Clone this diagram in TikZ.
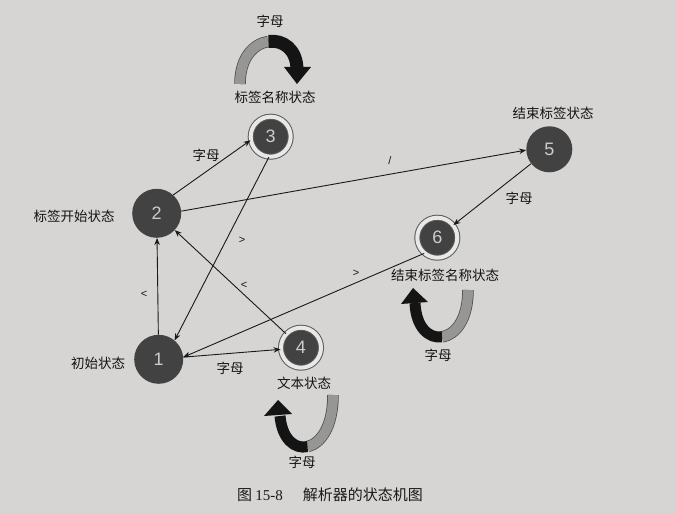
\documentclass[tikz,border=0pt]{standalone}
\usepackage{fontspec}
\newfontfamily\cjk{Noto Sans CJK SC}
\newfontfamily\arialf{Liberation Sans}
\newfontfamily\timesf{Liberation Serif}
\usetikzlibrary{arrows.meta}
\definecolor{paper}{RGB}{214,213,211}
\definecolor{nodegray}{RGB}{66,66,66}
\definecolor{numgray}{RGB}{205,205,205}
\definecolor{ribgray}{RGB}{150,150,148}
\definecolor{ringgap}{RGB}{232,232,230}
\definecolor{ringline}{RGB}{90,90,90}
\begin{document}
\begin{tikzpicture}[x=1pt,y=-1pt,
  st/.style={circle,fill=nodegray,inner sep=0pt,minimum size=49pt,text=numgray,
    font=\arialf\fontsize{18}{18}\selectfont},
  acc/.style={circle,fill=nodegray,inner sep=0pt,minimum size=40pt,text=numgray,
    draw=ringline,line width=1pt,double=ringgap,double distance=4pt,
    font=\arialf\fontsize{18}{18}\selectfont},
  lab/.style={font=\cjk\fontsize{13.5}{16}\selectfont,text=black!92,inner sep=0pt},
  sym/.style={font=\arialf\fontsize{11}{11}\selectfont,text=black!92,inner sep=0pt},
  ed/.style={draw=black!90,line width=0.9pt,-{Stealth[length=7pt,width=5.5pt]}},
  ribg/.style={draw=ribgray,line width=10pt},
  ribo/.style={draw=black!70,line width=11.5pt},
  ribb/.style={draw=black!92,line width=11pt}]
\useasboundingbox (0,0) rectangle (675,513);
\fill[paper] (0,0) rectangle (675,513);

% states
\node[st] (n1) at (158.7,359.3) {1};
\node[st] (n2) at (156.7,213.3) {2};
\node[acc] (n3) at (270.7,136.7) {3};
\node[acc] (n4) at (301,347.7) {4};
\node[st,minimum size=46pt] (n5) at (549.3,149.3) {5};
\node[acc] (n6) at (437.3,237.7) {6};

% state names
\node[lab] (l1) at (98,363) {初始状态};
\node[lab] (l2) at (74,216) {标签开始状态};
\node[lab] (l3) at (275,97) {标签名称状态};
\node[lab] (l4) at (304,383) {文本状态};
\node[lab] (l5) at (553,113) {结束标签状态};
\node[lab] (l6) at (445,275) {结束标签名称状态};

% transitions
\draw[ed] (n1) -- (n2);
\draw[ed] (n2.48) -- (n3.190);
\draw[ed] (n3.-95) -- (n1.50);
\draw[ed] (n2.5) -- (n5.182);
\draw[ed] (n5) -- (n6);
\draw[ed] (n6.-130) -- (n1.5);
\draw[ed] (n4) -- (n2);
\draw[ed] (n1.5) -- (n4);

% transition labels
\node[sym] (s12) at (144,294) {<};
\node[sym] (s42) at (244,285) {<};
\node[sym] (s31) at (242,240) {>};
\node[sym] (s61) at (356,273) {>};
\node[sym] (s25) at (390,161) {/};
\node[lab] (z23) at (206,155) {字母};
\node[lab] (z56) at (519,198) {字母};
\node[lab] (z14) at (230,368) {字母};

% self loop on 3
\draw[ribo] (240,84) .. controls (240,57) and (254.25,43.5) .. (268.5,41.5);
\draw[ribg] (240,84) .. controls (240,57) and (254.25,43.5) .. (268.5,41.5);
\draw[ribb,line width=13pt] (268.5,41.5) .. controls (282.75,39.5) and (297,49) .. (297,70);
\fill[black!92] (297,84) -- (284,67) -- (311,67) -- cycle;
\node[lab] (z3) at (270,21) {字母};

% self loop on 4
\draw[ribo] (333,395) .. controls (333,427.5) and (320.25,443.75) .. (307.5,446.6);
\draw[ribg] (333,395) .. controls (333,427.5) and (320.25,443.75) .. (307.5,446.6);
\draw[ribb] (307.5,446.6) .. controls (294.75,449.5) and (282,439) .. (280,416);
\fill[black!92] (278,400) -- (264,416) -- (292,414) -- cycle;
\node[lab] (z4) at (302,462) {字母};

% self loop on 6
\draw[ribo] (468,290) .. controls (468,320) and (455,335) .. (442,336.9);
\draw[ribg] (468,290) .. controls (468,320) and (455,335) .. (442,336.9);
\draw[ribb] (442,336.9) .. controls (429,338.75) and (416,327.5) .. (415,303);
\fill[black!92] (413,288) -- (401,304) -- (428,302) -- cycle;
\node[lab] (z6) at (438,355) {字母};

% caption
\node[inner sep=0pt,text=black!90] (cap) at (330,495)
  {{\cjk\fontsize{15}{17}\selectfont 图}\ {\timesf\fontsize{15}{17}\selectfont 15-8}\qquad{\cjk\fontsize{15}{17}\selectfont 解析器的状态机图}};
\end{tikzpicture}
\end{document}
